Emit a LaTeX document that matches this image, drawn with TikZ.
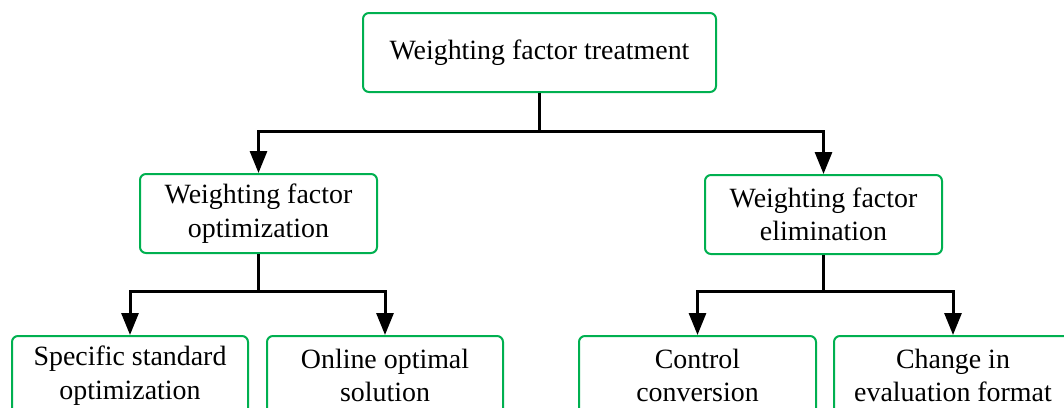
\documentclass[tikz,border=0pt]{standalone}
\usepackage{fontspec}
\setmainfont{Liberation Serif}
\usetikzlibrary{arrows.meta}
\definecolor{boxgreen}{RGB}{0,176,80}
\tikzset{
  box/.style={draw=boxgreen, line width=2pt, rounded corners=6pt, fill=white,
    minimum height=79pt, inner sep=0pt, align=center, text=black,
    font=\fontsize{27.9}{33.5}\selectfont},
  link/.style={draw=black, line width=3pt},
  arr/.style={link, -{Triangle[length=22pt,width=17pt]}}
}
\begin{document}
\begin{tikzpicture}[x=1pt,y=-1pt]
\useasboundingbox (0,0) rectangle (1064,407);
\clip (0,0) rectangle (1064,407);
% tree of boxes
\node[box, minimum width=353pt] (top) at (539.5,52.5) {Weighting factor treatment};
\node[box, minimum width=237pt] (ml) at (258.5,213.5) {Weighting factor\\optimization};
\node[box, minimum width=237pt] (mr) at (823.5,214.5) {Weighting factor\\elimination};
\node[box, minimum width=236pt] (b1) at (130,375.5) {Specific standard\\optimization};
\node[box, minimum width=236pt] (b2) at (385,375.5) {Online optimal\\solution};
\node[box, minimum width=237pt] (b3) at (697.5,375.5) {Control\\conversion};
\node[box, minimum width=238pt] (b4) at (953,375.5) {Change in\\evaluation format};
% junctions
\coordinate (j0) at (539.5,131);
\coordinate (j1) at (258.5,291);
\coordinate (j2) at (823.5,291);
% connectors
\draw[link] (top.south) -- (j0);
\draw[arr] (j0) -| (ml.north);
\draw[arr] (j0) -| (mr.north);
\draw[link] (ml.south) -- (j1);
\draw[arr] (j1) -| (b1.north);
\draw[arr] (j1) -| (b2.north);
\draw[link] (mr.south) -- (j2);
\draw[arr] (j2) -| (b3.north);
\draw[arr] (j2) -| (b4.north);
\end{tikzpicture}
\end{document}
